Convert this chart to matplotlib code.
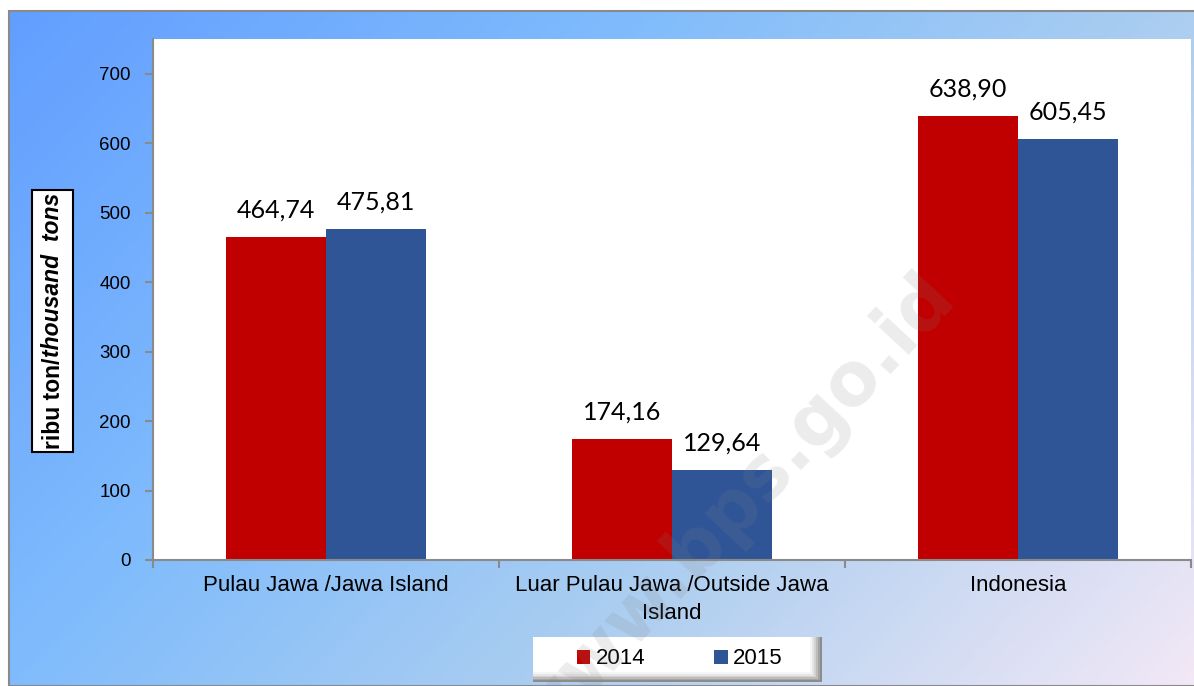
import numpy as np
import matplotlib
matplotlib.use('Agg')
import matplotlib.pyplot as plt
from matplotlib.patches import Rectangle
from matplotlib.colors import LinearSegmentedColormap

# data
categories = ['Pulau Jawa /Jawa Island', 'Luar Pulau Jawa /Outside Jawa\nIsland', 'Indonesia']
years = ['2014', '2015']
val_2014 = [464.74, 174.16, 638.90]
val_2015 = [475.81, 129.64, 605.45]
yticks = [0, 100, 200, 300, 400, 500, 600, 700]

W, H = 1194, 686
sans = 'Liberation Sans'
lab_font = 'Lato'


def fx(px):
    return px / W


def fy(py):
    return 1 - py / H


fig = plt.figure(figsize=(W / 100, H / 100), dpi=100)
fig.patch.set_facecolor('white')

# gradient background
bg = fig.add_axes([fx(9), 0, 1 - fx(9), (H - 11) / H], zorder=-5)
u = np.linspace(0, 1, 400)
v = np.linspace(0, 1, 240)
U, V = np.meshgrid(u, v)
T = 0.65 * U + 0.35 * V
cmap = LinearSegmentedColormap.from_list('bg', [
    (0.0, (98 / 255, 158 / 255, 1.0)),
    (0.35, (128 / 255, 188 / 255, 252 / 255)),
    (0.65, (172 / 255, 206 / 255, 240 / 255)),
    (1.0, (242 / 255, 232 / 255, 246 / 255))])
bg.imshow(T, cmap=cmap, aspect='auto', extent=[0, 1, 1, 0], vmin=0, vmax=1)
bg.set_xlim(0, 1)
bg.set_ylim(1, 0)
bg.axis('off')
fig.add_artist(Rectangle((fx(9), 0), 1, (H - 11) / H, transform=fig.transFigure,
                         fill=False, edgecolor='#8a8a8a', linewidth=1.5, zorder=-4))

# main axes
ax = fig.add_axes([fx(153), fy(560), (1191 - 153) / W, (560 - 39) / H])
ax.set_facecolor('white')
x = np.arange(len(categories))
bw = 0.289
red, blue = '#C00000', '#2F5597'
b1 = ax.bar(x - bw / 2, val_2014, bw, color=red, label=years[0], zorder=2)
b2 = ax.bar(x + bw / 2, val_2015, bw, color=blue, label=years[1], zorder=2)

for bars, vals in ((b1, val_2014), (b2, val_2015)):
    for r, val in zip(bars, vals):
        ax.annotate(f'{val:.2f}'.replace('.', ','), (r.get_x() + r.get_width() / 2, r.get_height()),
                    xytext=(0, 19.5), textcoords='offset points', ha='center', va='center',
                    fontsize=18, family=lab_font, color='black')

ax.set_xlim(-0.5, len(categories) - 0.5)
ax.set_ylim(0, 750)
ax.set_yticks(yticks)
ax.set_yticklabels([str(t) for t in yticks], fontsize=13.5, family=sans)
ax.set_xticks(x)
ax.set_xticklabels(categories, fontsize=16, family=sans, linespacing=1.45)
ax.tick_params(axis='x', which='major', length=0, pad=11)
ax.set_xticks(np.arange(-0.5, len(categories) + 0.5, 1), minor=True)
ax.tick_params(axis='x', which='minor', length=6, color='#8a8a8a', width=1.5)
ax.tick_params(axis='y', length=6, color='#8a8a8a', width=1.5, pad=10)
for s in ('top', 'right'):
    ax.spines[s].set_visible(False)
for s in ('left', 'bottom'):
    ax.spines[s].set_color('#8a8a8a')
    ax.spines[s].set_linewidth(1.5)

# y label in a box, mixed styles
fig.canvas.draw()
rend = fig.canvas.get_renderer()
ysize = 16.5
t1 = fig.text(fx(53), fy(450), 'ribu ton/', rotation=90, ha='center', va='bottom',
              fontsize=ysize, family=sans, fontweight='bold', zorder=3)
e1 = t1.get_window_extent(rend)
t2 = fig.text(fx(53), e1.y1 / H, 'thousand  tons', rotation=90, ha='center', va='bottom',
              fontsize=ysize, family=sans, fontweight='bold', style='italic', zorder=3)
e2 = t2.get_window_extent(rend)
total = e2.y1 - e1.y0
shift = (fy(321) * H - (e1.y0 + total / 2)) / H
t1.set_y(t1.get_position()[1] + shift)
t2.set_y(t2.get_position()[1] + shift)
fig.add_artist(Rectangle((fx(32), fy(452)), fx(41), (452 - 190) / H, transform=fig.transFigure,
                         facecolor='white', edgecolor='black', linewidth=1.5, zorder=2))

# legend box with bevel shadow (gray fading to white towards the top-left)
lx0, lx1, ly0, ly1 = 533, 822, 637, 682
shades = ['#8c8c8c', '#a4a4a4', '#bcbcbc', '#d2d2d2', '#e6e6e6', '#f5f5f5', 'white']
for k, c in enumerate(shades):
    dr = 2 * k
    db = 1.6 * k
    fig.add_artist(Rectangle((fx(lx0), fy(ly1 - db)), fx(lx1 - lx0 - dr), (ly1 - ly0 - db) / H,
                             transform=fig.transFigure, facecolor=c, edgecolor='none',
                             zorder=2 + k * 0.01))

leg = fig.legend(handles=[b1, b2], labels=years, loc='center', bbox_to_anchor=(fx(680), fy(659)),
                 ncol=2, frameon=False, prop={'family': sans, 'size': 16},
                 handlelength=0.6, handleheight=0.6, handletextpad=0.25, columnspacing=3.1,
                 borderpad=0.2, borderaxespad=0)
leg.set_zorder(5)

# watermark
fig.text(fx(734), fy(510), 'www.bps.go.id', rotation=47, ha='center', va='center',
         fontsize=53, fontweight='bold', family='DejaVu Sans', color='#808080', alpha=0.15, zorder=10)

fig.savefig('out.png', dpi=100)
